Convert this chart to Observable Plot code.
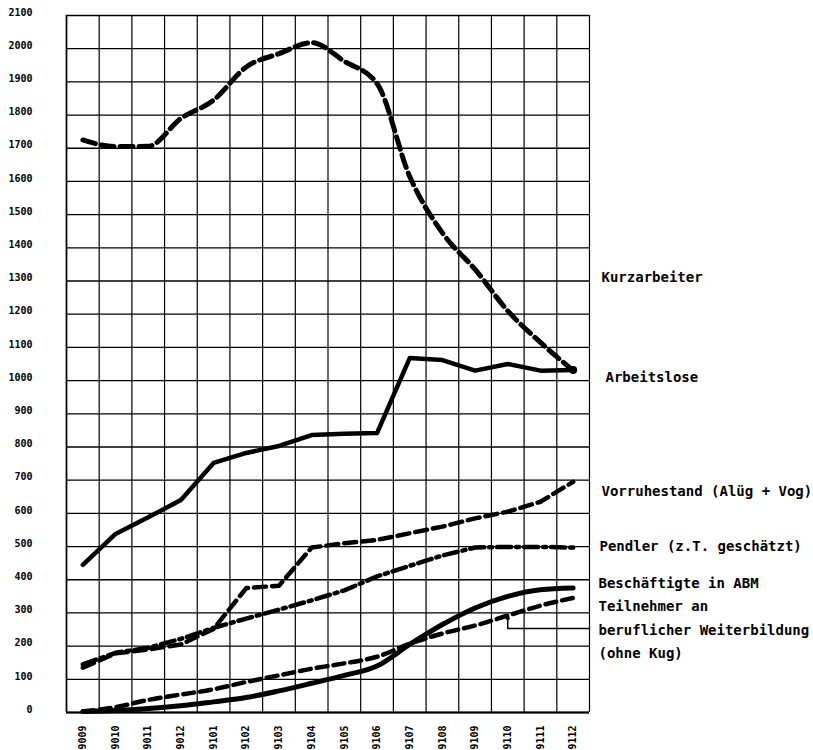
<!DOCTYPE html>
<html><head><meta charset="utf-8">
<script src="https://cdn.jsdelivr.net/npm/d3@7"></script>
<script src="https://cdn.jsdelivr.net/npm/@observablehq/plot@0.6"></script>
<style>body{margin:0;background:#fff}</style>
</head><body><div id="chart"></div>
<script>
const months = ["9009","9010","9011","9012","9101","9102","9103","9104","9105","9106","9107","9108","9109","9110","9111","9112"];
const kurzarbeiter = [1725, 1705, 1706, 1790, 1845, 1945, 1985, 2018, 1962, 1895, 1615, 1445, 1335, 1210, 1115, 1030];
const arbeitslose  = [445, 538, 588, 640, 752, 782, 803, 836, 840, 842, 1068, 1062, 1030, 1050, 1030, 1032];
const vorruhestand = [135, 178, 190, 205, 252, 375, 382, 497, 510, 520, 540, 560, 585, 605, 635, 695];
const pendler      = [145, 180, 195, 222, 255, 283, 310, 338, 368, 410, 442, 473, 497, 499, 499, 497];
const abm          = [3, 6, 12, 20, 32, 45, 65, 88, 112, 140, 205, 265, 315, 350, 370, 375];
const teilnehmer   = [3, 16, 38, 54, 70, 92, 112, 132, 148, 168, 207, 238, 262, 292, 322, 345];
const yTicks = d3.range(0, 2101, 100);

const labelTexts = ["Kurzarbeiter","Arbeitslose","Vorruhestand (Alüg + Vog)","Pendler (z.T. geschätzt)","Beschäftigte in ABM","Teilnehmer an","beruflicher Weiterbildung","(ohne Kug)"];
const labelLevels = [1310, 1009, 666, 500, 389, 319, 247, 178];
const labelShift = [12, 16, 12, 10, 9, 9, 9, 9];
const leaderIndex = 13;
const leaderLevel = 253;

const idx = months.map((m, i) => i);
const edges = d3.range(-0.5, months.length, 1);
const lineOf = (arr, opts) => Plot.line(idx, {x: i => i, y: i => arr[i], stroke: "black", strokeLinejoin: "round", ...opts});
const labelMarks = labelTexts.map((t, i) => Plot.text([t], {
  x: () => months.length - 0.5, y: () => labelLevels[i], dx: labelShift[i],
  text: d => d, textAnchor: "start", fontSize: 14, fontWeight: "bold", fill: "black"
}));

const chart = Plot.plot({
  width: 813, height: 750,
  marginLeft: 66, marginRight: 224, marginTop: 15, marginBottom: 38,
  style: {fontFamily: "DejaVu Sans Mono", background: "white", color: "black", overflow: "visible"},
  x: {type: "linear", domain: [-0.5, months.length - 0.5], label: null},
  y: {domain: [0, 2100], label: null},
  marks: [
    Plot.ruleY(yTicks, {stroke: "black", strokeWidth: 1.3}),
    Plot.ruleX(edges, {stroke: "black", strokeWidth: 1.2}),
    Plot.ruleY([0], {stroke: "black", strokeWidth: 2}),
    Plot.ruleX([edges[0]], {stroke: "black", strokeWidth: 1.6}),
    Plot.axisY(yTicks, {tickSize: 0, tickPadding: 34, dy: -3, tickFormat: d => String(d), fontWeight: "bold", fontSize: 10, label: null}),
    Plot.axisX(idx, {tickSize: 0, tickPadding: 13, tickRotate: -90, tickFormat: i => months[i], fontWeight: "bold", fontSize: 10, label: null}),
    lineOf(kurzarbeiter, {strokeWidth: 5, strokeDasharray: "13,6", curve: "monotone-x"}),
    lineOf(arbeitslose, {strokeWidth: 4.5, curve: "linear"}),
    lineOf(vorruhestand, {strokeWidth: 4.5, strokeDasharray: "12,6", curve: "linear"}),
    lineOf(pendler, {strokeWidth: 4.5, strokeDasharray: "14,5,3,5", curve: "linear"}),
    lineOf(abm, {strokeWidth: 5, curve: "monotone-x"}),
    lineOf(teilnehmer, {strokeWidth: 4.5, strokeDasharray: "11,6", curve: "monotone-x"}),
    Plot.dot([months.length - 1], {x: i => i, y: i => arbeitslose[i], r: 4, fill: "black"}),
    Plot.line([[leaderIndex, teilnehmer[leaderIndex]], [leaderIndex, leaderLevel], [months.length - 0.5, leaderLevel]], {x: d => d[0], y: d => d[1], stroke: "black", strokeWidth: 1.5}),
    Plot.dot([leaderIndex], {x: i => i, y: i => teilnehmer[i] - 8, r: 2, fill: "black"}),
    ...labelMarks
  ]
});
document.getElementById("chart").append(chart);
</script>
</body></html>
